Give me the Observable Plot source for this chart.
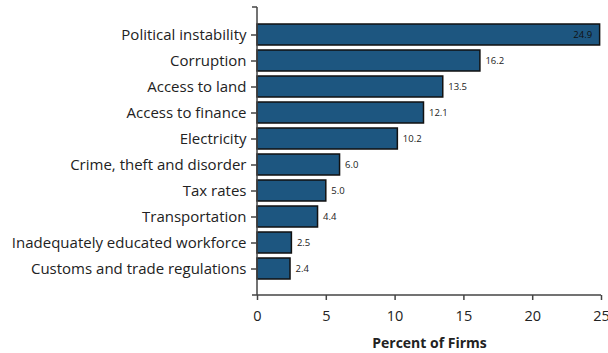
<!DOCTYPE html>
<html>
<head>
<meta charset="utf-8">
<script src="https://cdn.jsdelivr.net/npm/d3@7"></script>
<script src="https://cdn.jsdelivr.net/npm/@observablehq/plot@0.6"></script>
<style>
  html, body { margin: 0; padding: 0; background: #fff; }
  #chart svg { display: block; }
</style>
</head>
<body>
<div id="chart"></div>
<script>
const categories = [
  "Political instability",
  "Corruption",
  "Access to land",
  "Access to finance",
  "Electricity",
  "Crime, theft and disorder",
  "Tax rates",
  "Transportation",
  "Inadequately educated workforce",
  "Customs and trade regulations"
];
const values = [24.9, 16.2, 13.5, 12.1, 10.2, 6.0, 5.0, 4.4, 2.5, 2.4];
const xTicks = [0, 5, 10, 15, 20, 25];
const xLabel = "Percent of Firms";

const data = categories.map((c, i) => ({category: c, value: values[i]}));
const inside = data.filter(d => d.value > 20);
const outside = data.filter(d => d.value <= 20);

const font = "'Segoe UI', 'Open Sans', sans-serif";

// custom mark: axis frame lines (bottom x-axis line, left end ticks)
function axisFrame(index, scales, values, dimensions) {
  const {width, height, marginLeft, marginRight, marginTop, marginBottom} = dimensions;
  const x0 = marginLeft, x1 = width - marginRight;
  const y0 = marginTop, y1 = height - marginBottom;
  const g = d3.create("svg:g").attr("stroke", "#444").attr("stroke-width", 1.5).attr("fill", "none");
  g.append("path").attr("d", `M${x0 - 5},${y1}H${x1}`);
  g.append("path").attr("d", `M${x0 - 5},${y0}H${x0}`);
  g.append("path").attr("d", `M${x0},${y0}V${y1}`);
  return g.node();
}

const chart = Plot.plot({
  width: 608,
  height: 353,
  marginTop: 7,
  marginBottom: 58,
  marginLeft: 257,
  marginRight: 7,
  style: {fontFamily: font, color: "#222", background: "#fff"},
  x: {domain: [0, 25], ticks: xTicks, label: null, axis: null},
  y: {domain: categories, paddingInner: 0.2, paddingOuter: 0.6, label: null, axis: null},
  marks: [
    Plot.barX(data, {x: "value", y: "category", fill: "#1d5680", stroke: "#111", strokeWidth: 1.5}),
    axisFrame,
    Plot.axisY({tickSize: 6, tickPadding: 5, fontSize: 15, stroke: "#444", strokeWidth: 1.5, label: null}),
    Plot.axisX({ticks: xTicks, tickSize: 5, tickPadding: 10, fontSize: 14.5, stroke: "#444", strokeWidth: 1.5, label: null}),
    Plot.text(outside, {x: "value", y: "category", text: d => d.value.toFixed(1), textAnchor: "start", dx: 5, fontSize: 9.5, fill: "#222"}),
    Plot.text(inside, {x: "value", y: "category", text: d => d.value.toFixed(1), textAnchor: "end", dx: -8, fontSize: 9.5, fill: "#111"}),
    Plot.text([xLabel], {frameAnchor: "bottom", dy: 52, text: d => d, fontSize: 14, fontWeight: "bold", fill: "#222"})
  ]
});

document.getElementById("chart").appendChild(chart);
</script>
</body>
</html>
